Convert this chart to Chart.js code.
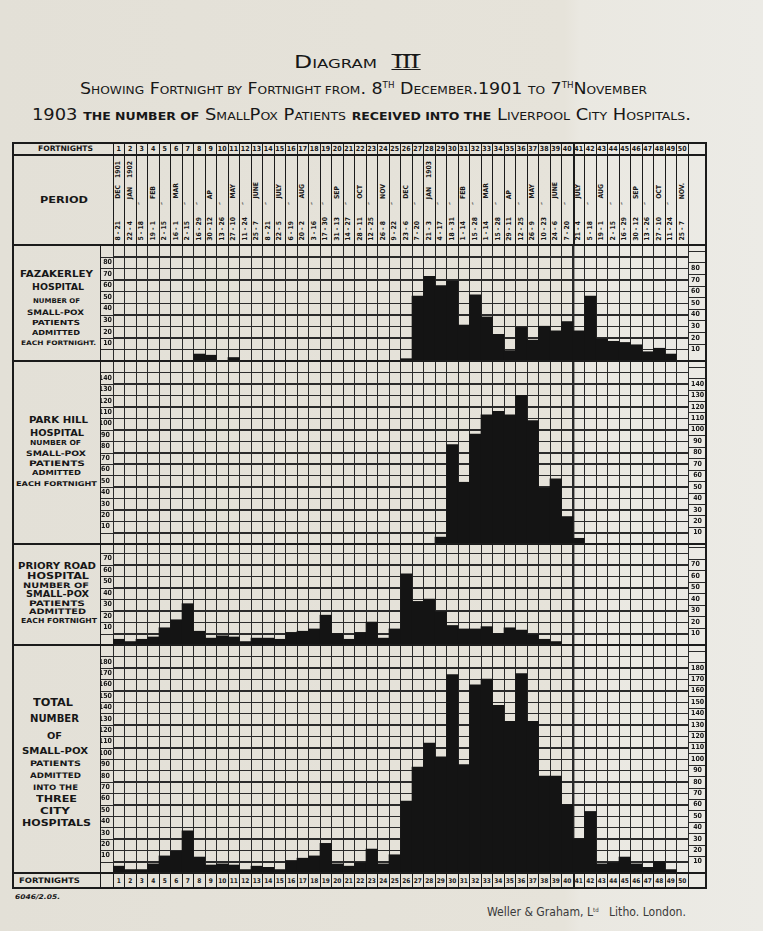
<!DOCTYPE html>
<html><head><meta charset="utf-8">
<script src="https://cdn.jsdelivr.net/npm/chart.js@4.4.1/dist/chart.umd.min.js"></script>
<style>
html,body{margin:0;padding:0}
body{width:763px;height:931px;position:relative;overflow:hidden;
background:linear-gradient(90deg,#e3e0d7 0%,#e6e3da 74%,#eae8e1 76%,#ecebe6 100%);
color:#171717;font-family:"DejaVu Sans Condensed","DejaVu Sans",sans-serif;font-stretch:condensed}
.t{position:absolute;white-space:nowrap;line-height:1}
.k{font-size:0.7em}
.sup{font-size:0.5em;vertical-align:0.75em}
.rn{display:inline-block;border-top:1.5px solid #171717;border-bottom:1.5px solid #171717;line-height:0.8;font-family:"Liberation Serif","DejaVu Serif",serif;padding:0 1px}
.ln{position:absolute;background:#1b1b1b;z-index:5}
.v{position:absolute;white-space:nowrap;line-height:1;writing-mode:vertical-rl;transform:rotate(180deg);font-weight:bold}
canvas{position:absolute}
</style></head><body>
<script>
// ---------------- data ----------------
const fortnights = ['1','2','3','4','5','6','7','8','9','10','11','12','13','14','15','16','17','18','19','20','21','22','23','24','25','26','27','28','29','30','31','32','33','34','35','36','37','38','39','40','41','42','43','44','45','46','47','48','49','50'];
const periodDates = ['8 - 21','22 - 4','5 - 18','19 - 1','2 - 15','16 - 1','2 - 15','16 - 29','30 - 12','13 - 26','27 - 10','11 - 24','25 - 7','8 - 21','22 - 5','6 - 19','20 - 2','3 - 16','17 - 30','31 - 13','14 - 27','28 - 11','12 - 25','26 - 8','9 - 22','23 - 6','7 - 20','21 - 3','4 - 17','18 - 31','1 - 14','15 - 28','1 - 14','15 - 28','29 - 11','12 - 25','26 - 9','10 - 23','24 - 6','7 - 20','21 - 4','5 - 18','19 - 1','2 - 15','16 - 29','30 - 12','13 - 26','27 - 10','11 - 24','25 - 7'];
const periodMonths = ['DEC','JAN','\u2033','FEB','\u2033','MAR','\u2033','\u2033','AP','\u2033','MAY','\u2033','JUNE','\u2033','JULY','\u2033','AUG','\u2033','\u2033','SEP','\u2033','OCT','\u2033','NOV','\u2033','DEC','\u2033','JAN','\u2033','\u2033','FEB','\u2033','MAR','\u2033','AP','\u2033','MAY','\u2033','JUNE','\u2033','JULY','\u2033','AUG','\u2033','\u2033','SEP','\u2033','OCT','\u2033','NOV.'];
const periodYears = ['1901','1902','','','','','','','','','','','','','','','','','','','','','','','','','','1903','','','','','','','','','','','','','','','','','','','','','',''];

const fazakerley = [0,0,0,0,0,0,0,6,5,0, 3,0,0,0,0,0,0,0,0,0, 0,0,0,0,0,2,56,73,65,69, 31,57,38,23,9,29,18,30,26,34, 26,56,19,17,16,14,8,11,6,0];
const parkHill   = [0,0,0,0,0,0,0,0,0,0, 0,0,0,0,0,0,0,0,0,0, 0,0,0,0,0,0,0,0,6,87, 54,96,113,116,113,130,108,49,57,24, 5,0,0,0,0,0,0,0,0,0];
const prioryRoad = [5,3,5,7,15,22,36,12,6,8, 7,3,6,6,5,11,12,14,26,10, 5,11,20,6,14,62,38,40,29,17, 14,14,16,10,15,13,9,5,3,0, 0,0,0,0,0,0,0,0,0,0];
const totalAll   = [6,3,3,8,15,19,37,14,7,8, 7,3,6,5,3,11,13,15,26,8, 6,9,21,8,16,63,93,114,102,174, 95,165,170,147,133,175,133,85,85,60, 30,54,8,9,14,8,5,10,3,0];

// ---------------- helpers ----------------
const FONT = "'DejaVu Sans Condensed','DejaVu Sans',sans-serif";
const INK = '#141414';
const GRID = '#2a2a2a';
const X0 = 113, COLW = 11.5;

function ln(x, y, w, h) {
  const d = document.createElement('div'); d.className = 'ln';
  d.style.left = x + 'px'; d.style.top = y + 'px'; d.style.width = w + 'px'; d.style.height = h + 'px';
  document.body.appendChild(d);
}
function txt(html, x0, x1, yc, size, weight, extra) {
  const d = document.createElement('div'); d.className = 't';
  d.innerHTML = html; d.style.fontSize = size + 'px'; d.style.fontWeight = weight || 'bold';
  if (extra) Object.assign(d.style, extra);
  document.body.appendChild(d);
  const r = d.getBoundingClientRect();
  d.style.top = (yc - r.height / 2) + 'px';
  if (x1 == null) { d.style.left = (x0 - r.width / 2) + 'px'; }
  else {
    d.style.left = x0 + 'px';
    d.style.transformOrigin = '0 50%';
    d.style.transform = 'scaleX(' + ((x1 - x0) / r.width).toFixed(3) + ')';
  }
  return d;
}
function vtext(str, cx, bottom, size) {
  if (!str) return;
  const d = document.createElement('div'); d.className = 'v';
  d.textContent = str; d.style.fontSize = size + 'px';
  document.body.appendChild(d);
  const r = d.getBoundingClientRect();
  d.style.left = (cx - r.width / 2) + 'px'; d.style.top = (bottom - r.height) + 'px';
}

// horizontal rules of the squared paper, placed from the chart's own y scale
const rulings = {
  id: 'rulings',
  beforeDatasetsDraw(chart) {
    const {ctx, chartArea, width} = chart;
    const y = chart.scales.y;
    ctx.save(); ctx.strokeStyle = GRID; ctx.lineWidth = 1;
    for (let v = 10; v < y.max; v += 10) {
      const p = Math.round(y.getPixelForValue(v)) + 0.5;
      ctx.beginPath(); ctx.moveTo(0, p); ctx.lineTo(chartArea.right, p); ctx.stroke();
      const q = Math.round(y.getPixelForValue(v + 5)) + 0.5;
      if (v + 5 < y.max) { ctx.beginPath(); ctx.moveTo(chartArea.right, q); ctx.lineTo(width, q); ctx.stroke(); }
    }
    ctx.restore();
  }
};

function panel(top, height, max, labelMax, data) {
  const cv = document.createElement('canvas');
  cv.width = 607; cv.height = height;
  cv.style.left = '100px'; cv.style.top = top + 'px';
  cv.style.width = '607px'; cv.style.height = height + 'px';
  document.body.appendChild(cv);
  const tickFont = {family: FONT, size: 7, weight: 'bold'};
  const cb = v => (v >= 10 && v <= labelMax && v % 10 === 0) ? String(v) : '';
  return new Chart(cv, {
    type: 'bar',
    data: {labels: fortnights, datasets: [{data, backgroundColor: INK, borderWidth: 0, barPercentage: 1, categoryPercentage: 1}]},
    options: {
      responsive: false, maintainAspectRatio: false, animation: false, devicePixelRatio: 1, events: [],
      layout: {padding: 0},
      plugins: {legend: {display: false}, tooltip: {enabled: false}, title: {display: false}},
      scales: {
        x: {offset: true, grid: {offset: true, color: GRID, lineWidth: c => c.index === 40 ? 2.4 : 1, drawTicks: false},
            border: {display: false}, ticks: {display: false},
            afterFit: s => { s.height = 0; s.paddingLeft = 0; s.paddingRight = 0; }},
        y: {position: 'left', min: 0, max, grid: {display: true, color: GRID, lineWidth: 1, drawTicks: false}, border: {display: false},
            ticks: {stepSize: 10, autoSkip: false, padding: 1, crossAlign: 'center', labelOffset: -6, color: INK, font: tickFont, callback: cb},
            afterFit: s => { s.width = 13; s.paddingTop = 0; s.paddingBottom = 0; }},
        y2: {position: 'right', min: 0, max, grid: {display: false, drawTicks: false}, border: {display: false},
            ticks: {stepSize: 10, autoSkip: false, padding: 3, crossAlign: 'center', labelOffset: 0, color: INK, font: tickFont, callback: cb},
            afterFit: s => { s.width = 19; s.paddingTop = 0; s.paddingBottom = 0; }}
      }
    },
    plugins: [rulings]
  });
}

// ---------------- charts ----------------
panel(245, 116, 100, 80, fazakerley);
panel(361, 183, 160, 140, parkHill);
panel(544, 101, 88, 70, prioryRoad);
panel(645, 228, 200, 180, totalAll);

// ---------------- table frame ----------------
ln(12, 142, 695, 2); ln(12, 887, 695, 2); ln(12, 142, 2, 747); ln(705, 142, 2, 747);
ln(12, 154, 695, 1.5); ln(12, 244, 695, 2);
ln(12, 360, 695, 2); ln(12, 543, 695, 2); ln(12, 644, 695, 2); ln(12, 872, 695, 2);
ln(99.5, 245, 1.5, 643);
for (let k = 0; k <= 50; k++) {
  const x = X0 + k * COLW - 0.5;
  const w = (k === 40) ? 2.4 : 1.2;
  ln(x, 143, w, 102);
  ln(x, 872, w, 16);
}

// ---------------- header / footer rows ----------------
txt('FORTNIGHTS', 38, 93, 148.5, 7.5, 'bold');
txt('PERIOD', 40, 88, 200, 8.5, 'bold');
txt('FORTNIGHTS', 19, 80, 880.5, 7.5, 'bold');
fortnights.forEach((f, i) => {
  const cx = X0 + (i + 0.5) * COLW;
  txt(f, cx, null, 149, 7, 'bold');
  txt(f, cx, null, 881, 6.5, 'bold');
  vtext(periodDates[i], cx, 241, 6.8);
  vtext(periodMonths[i], cx, periodMonths[i] === '\u2033' ? 205 : 199, 6.8);
  vtext(periodYears[i], cx, 178, 6.8);
});

// ---------------- panel labels ----------------
txt('FAZAKERLEY', 20, 93, 273.5, 9.5, 'bold');
txt('HOSPITAL', 32, 84, 287, 9, 'bold');
txt('NUMBER OF', 33, 80, 301, 6.5, 'bold');
txt('SMALL-POX', 27, 84, 313, 7.5, 'bold');
txt('PATIENTS', 32, 80, 323.5, 7, 'bold');
txt('ADMITTED', 32, 80, 333, 7, 'bold');
txt('EACH FORTNIGHT.', 21, 96, 343, 6.2, 'bold');

txt('PARK HILL', 29, 88, 420, 9.5, 'bold');
txt('HOSPITAL', 30, 84, 433.5, 8.5, 'bold');
txt('NUMBER OF', 30, 81, 443.5, 7, 'bold');
txt('SMALL-POX', 26, 86, 453.5, 7.5, 'bold');
txt('PATIENTS', 29, 85, 463.5, 7.5, 'bold');
txt('ADMITTED', 32, 81, 473.5, 7, 'bold');
txt('EACH FORTNIGHT', 16, 97, 484, 6.5, 'bold');

txt('PRIORY ROAD', 18, 96, 566, 9, 'bold');
txt('HOSPITAL', 27, 89, 576, 9, 'bold');
txt('NUMBER OF', 23, 89, 586, 7.5, 'bold');
txt('SMALL-POX', 26, 89, 595, 8, 'bold');
txt('PATIENTS', 29, 85, 603.5, 7.5, 'bold');
txt('ADMITTED', 29, 86, 612, 7.5, 'bold');
txt('EACH FORTNIGHT', 21, 97, 621.5, 7, 'bold');

txt('TOTAL', 33, 73, 703, 10, 'bold');
txt('NUMBER', 30, 79, 719, 10, 'bold');
txt('OF', 47, 62, 736, 8.5, 'bold');
txt('SMALL-POX', 22, 88, 752, 8, 'bold');
txt('PATIENTS', 30, 81, 764, 7.5, 'bold');
txt('ADMITTED', 30, 81, 776, 7.5, 'bold');
txt('INTO THE', 33, 78, 787.5, 7.5, 'bold');
txt('THREE', 36, 77, 799.5, 8.5, 'bold');
txt('CITY', 40, 70, 811.5, 8.5, 'bold');
txt('HOSPITALS', 22, 91, 823.5, 8.5, 'bold');

// ---------------- titles ----------------
txt('D<span class="k">IAGRAM</span>&nbsp;&nbsp;<span class="rn">III</span>', 294, 421, 62, 18, 'normal');
txt('S<span class="k">HOWING</span> F<span class="k">ORTNIGHT BY</span> F<span class="k">ORTNIGHT FROM</span>. 8<span class="sup">TH</span> D<span class="k">ECEMBER</span>.1901 <span class="k">TO</span> 7<span class="sup">TH</span>N<span class="k">OVEMBER</span>', 80, 647, 89, 16, 'normal');
txt('1903 <span class="k" style="font-weight:bold">THE NUMBER OF</span> S<span class="k">MALL</span>P<span class="k">OX</span> P<span class="k">ATIENTS</span> <span class="k" style="font-weight:bold">RECEIVED INTO THE</span> L<span class="k">IVERPOOL</span> C<span class="k">ITY</span> H<span class="k">OSPITALS</span>.', 32, 691, 115, 16, 'normal');

// ---------------- imprint ----------------
txt('6046/2.05.', 15, 60, 897, 6.5, 'bold', {fontStyle: 'italic'});
txt('Weller &amp; Graham, L<span class="sup">td</span>&nbsp;&nbsp; Litho. London.', 487, 686, 912, 12, 'normal', {color: '#3a3a3a'});
</script>
</body></html>
